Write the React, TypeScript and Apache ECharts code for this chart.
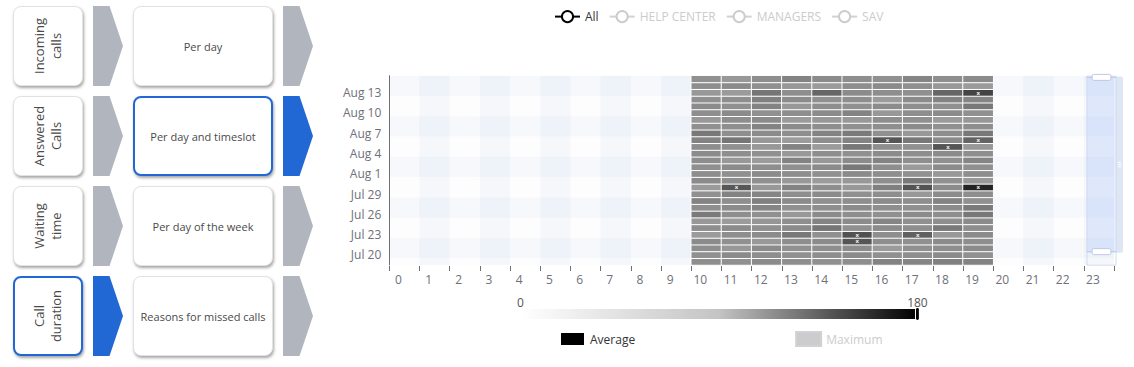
import React, { useEffect, useRef } from 'react';
import * as echarts from 'echarts';

const FONT = "'Open Sans', sans-serif";

// x-axis: hour of day
const hours = ['0', '1', '2', '3', '4', '5', '6', '7', '8', '9', '10', '11', '12', '13', '14', '15', '16', '17', '18', '19', '20', '21', '22', '23'];

// y-axis: days (the first two are outside the zoom window)
const dates = [
  'Jul 17', 'Jul 18', 'Jul 19', 'Jul 20', 'Jul 21', 'Jul 22', 'Jul 23', 'Jul 24', 'Jul 25', 'Jul 26',
  'Jul 27', 'Jul 28', 'Jul 29', 'Jul 30', 'Jul 31', 'Aug 1', 'Aug 2', 'Aug 3', 'Aug 4', 'Aug 5',
  'Aug 6', 'Aug 7', 'Aug 8', 'Aug 9', 'Aug 10', 'Aug 11', 'Aug 12', 'Aug 13', 'Aug 14', 'Aug 15',
];

// days and hours that have data
const dataDates = [
  'Jul 19', 'Jul 20', 'Jul 21', 'Jul 22', 'Jul 23', 'Jul 24', 'Jul 25', 'Jul 26', 'Jul 27', 'Jul 28',
  'Jul 29', 'Jul 30', 'Jul 31', 'Aug 1', 'Aug 2', 'Aug 3', 'Aug 4', 'Aug 5', 'Aug 6', 'Aug 7',
  'Aug 8', 'Aug 9', 'Aug 10', 'Aug 11', 'Aug 12', 'Aug 13', 'Aug 14', 'Aug 15',
];
const dataHours = ['10', '11', '12', '13', '14', '15', '16', '17', '18', '19'];

// average call duration (s), one row per day in dataDates order, columns = dataHours
const averageValues = [
  [115, 114, 116, 115, 114, 115, 120, 119, 121, 120], // Jul 19
  [114, 116, 115, 114, 115, 116, 114, 115, 116, 114], // Jul 20
  [115, 110, 116, 114, 115, 116, 109, 114, 115, 116], // Jul 21
  [116, 114, 110, 115, 116, 141, 115, 114, 116, 115], // Jul 22
  [109, 115, 116, 125, 114, 143, 115, 136, 110, 116], // Jul 23
  [115, 116, 114, 116, 126, 114, 116, 115, 124, 115], // Jul 24
  [110, 109, 111, 115, 120, 116, 119, 114, 115, 116], // Jul 25
  [124, 115, 114, 110, 116, 115, 114, 116, 115, 125], // Jul 26
  [115, 116, 119, 114, 115, 116, 115, 114, 116, 124], // Jul 27
  [120, 115, 121, 116, 114, 115, 116, 115, 120, 114], // Jul 28
  [114, 120, 119, 115, 116, 114, 115, 110, 116, 115], // Jul 29
  [109, 140, 110, 120, 115, 110, 121, 142, 116, 164], // Jul 30
  [116, 115, 114, 110, 109, 110, 115, 125, 114, 110], // Jul 31
  [115, 114, 116, 115, 114, 116, 115, 114, 110, 115], // Aug 1
  [114, 116, 115, 114, 116, 125, 115, 109, 116, 114], // Aug 2
  [115, 110, 109, 120, 110, 116, 120, 115, 114, 119], // Aug 3
  [116, 115, 114, 110, 115, 114, 116, 115, 116, 115], // Aug 4
  [115, 114, 110, 120, 109, 125, 115, 114, 141, 110], // Aug 5
  [120, 126, 110, 109, 115, 120, 141, 125, 116, 134], // Aug 6
  [125, 115, 116, 115, 120, 124, 114, 110, 115, 125], // Aug 7
  [114, 115, 120, 116, 115, 114, 115, 116, 114, 115], // Aug 8
  [110, 115, 116, 109, 110, 110, 115, 114, 109, 110], // Aug 9
  [115, 116, 114, 115, 116, 120, 110, 115, 116, 114], // Aug 10
  [116, 114, 120, 110, 115, 114, 116, 115, 114, 125], // Aug 11
  [114, 115, 121, 116, 114, 115, 109, 116, 120, 119], // Aug 12
  [110, 109, 126, 115, 133, 116, 115, 114, 133, 149], // Aug 13
  [115, 116, 114, 110, 109, 115, 116, 114, 110, 109], // Aug 14
  [114, 110, 115, 120, 116, 115, 114, 119, 115, 116], // Aug 15
];

// cells marked with an "x"
const flaggedCells: [string, string][] = [
  ['Aug 13', '19'], ['Aug 6', '16'], ['Aug 6', '19'], ['Aug 5', '18'],
  ['Jul 30', '11'], ['Jul 30', '17'], ['Jul 30', '19'],
  ['Jul 23', '15'], ['Jul 23', '17'], ['Jul 22', '15'],
];

const topLegend = ['All', 'HELP CENTER', 'MANAGERS', 'SAV'];
const bottomLegend = ['Average', 'Maximum'];

const visualMin = 0;
const visualMax = 180;
const palette = ['#ffffff', '#c4c4c4', '#000000'];

const steps = [
  { label: ['Incoming', 'calls'], view: 'Per day', labelActive: false, viewActive: false },
  { label: ['Answered', 'Calls'], view: 'Per day and timeslot', labelActive: false, viewActive: true },
  { label: ['Waiting', 'time'], view: 'Per day of the week', labelActive: false, viewActive: false },
  { label: ['Call', 'duration'], view: 'Reasons for missed calls', labelActive: true, viewActive: false },
];

const BLUE = '#2268d4';
const GREY = '#b1b6be';

function Card(props: { left: number; top: number; width: number; active: boolean; children: React.ReactNode }) {
  return (
    <div
      style={{
        position: 'absolute',
        left: props.left,
        top: props.top,
        width: props.width,
        height: 80,
        boxSizing: 'border-box',
        background: '#fff',
        borderRadius: 8,
        border: props.active ? `2px solid ${BLUE}` : '1px solid #e2e2e2',
        boxShadow: '1px 2px 3px rgba(0,0,0,0.35)',
        display: 'flex',
        alignItems: 'center',
        justifyContent: 'center',
        color: '#4a4a4a',
      }}
    >
      {props.children}
    </div>
  );
}

function Chevron(props: { left: number; top: number; active: boolean }) {
  return (
    <div
      style={{
        position: 'absolute',
        left: props.left,
        top: props.top,
        width: 30,
        height: 80,
        background: props.active ? BLUE : GREY,
        clipPath: 'polygon(0 0, 55% 0, 100% 50%, 55% 100%, 0 100%)',
      }}
    />
  );
}

export default function App() {
  const ref = useRef<HTMLDivElement>(null);

  useEffect(() => {
    const chart = echarts.init(ref.current!, null, { renderer: 'svg' });

    const flagged = new Set(flaggedCells.map(([d, h]) => d + '|' + h));
    const heatData: any[] = [];
    dataDates.forEach((d, i) => {
      dataHours.forEach((h, j) => {
        const item: any = { value: [hours.indexOf(h), dates.indexOf(d), averageValues[i][j]] };
        if (flagged.has(d + '|' + h)) item.label = { show: true };
        heatData.push(item);
      });
    });

    const yInterval = (index: number) => index % 3 === 0;
    const axisColor = '#6E7079';
    const splitColors = ['rgba(250,250,250,0.2)', 'rgba(210,219,238,0.2)'];

    const option: any = {
      animation: false,
      textStyle: { fontFamily: FONT },
      legend: [
        {
          data: topLegend,
          selected: { All: true, 'HELP CENTER': false, MANAGERS: false, SAV: false },
          left: 229,
          top: 5,
          itemWidth: 25,
          itemHeight: 14,
          itemGap: 10,
          inactiveColor: '#ccc',
          textStyle: { color: '#333', fontSize: 12, fontFamily: FONT },
        },
        {
          data: bottomLegend.map((n) => ({ name: n, itemStyle: { color: '#000' } })),
          selected: { Average: true, Maximum: false },
          icon: 'rect',
          left: 234,
          top: 326,
          itemWidth: 25,
          itemHeight: 14,
          itemGap: 160,
          inactiveColor: '#ccc',
          textStyle: { color: '#333', fontSize: 12, fontFamily: FONT },
        },
      ],
      grid: { left: 69.3, top: 75.7, width: 724.7, height: 189.3 },
      xAxis: {
        type: 'category',
        data: hours,
        offset: 1,
        axisLine: { show: false },
        axisTick: { show: true, interval: 0, length: 5, lineStyle: { color: axisColor } },
        axisLabel: { interval: 0, color: axisColor, fontSize: 12, fontFamily: FONT, padding: [0, 12, 0, 0], margin: 7 },
        splitArea: { show: true, interval: 0, areaStyle: { color: splitColors } },
        splitLine: { show: false },
      },
      yAxis: {
        type: 'category',
        data: dates,
        axisLine: { show: true, lineStyle: { color: axisColor } },
        axisTick: { show: false, interval: yInterval },
        axisLabel: { interval: yInterval, color: axisColor, fontSize: 12, fontFamily: FONT, margin: 8 },
        splitArea: { show: true, interval: yInterval, areaStyle: { color: splitColors } },
        splitLine: { show: false },
      },
      dataZoom: [
        {
          type: 'slider',
          yAxisIndex: 0,
          orient: 'vertical',
          left: 766,
          top: 75.7,
          width: 30,
          height: 189.3,
          startValue: 2,
          endValue: 29,
          showDataShadow: false,
          showDetail: false,
          borderColor: '#d2dbee',
          fillerColor: 'rgba(135,175,274,0.2)',
          moveHandleSize: 7,
          moveHandleStyle: { color: '#D2DBEE', opacity: 0.7 },
        },
      ],
      visualMap: {
        type: 'continuous',
        min: visualMin,
        max: visualMax,
        calculable: true,
        orient: 'horizontal',
        seriesIndex: [0, 1],
        left: 182,
        top: 281,
        itemWidth: 10,
        itemHeight: 397,
        precision: 0,
        inRange: { color: palette },
        textStyle: { color: '#555', fontSize: 12, fontFamily: FONT },
      },
      series: [
        {
          name: 'Average',
          type: 'heatmap',
          data: heatData,
          itemStyle: { borderColor: '#fff', borderWidth: 1 },
          label: { show: false, formatter: 'x', color: '#eeeeee', fontSize: 6, fontWeight: 'bold', lineHeight: 6, fontFamily: FONT },
          emphasis: { disabled: true },
        },
        {
          name: 'Maximum',
          type: 'heatmap',
          data: [],
          itemStyle: { borderColor: '#fff', borderWidth: 1 },
        },
        ...topLegend.map((n, i) => ({
          name: n,
          type: 'line',
          data: [],
          symbol: 'emptyCircle',
          symbolSize: 8,
          color: i === 0 ? '#000' : '#999',
          lineStyle: { width: 2 },
        })),
      ],
    };

    chart.setOption(option);
    return () => chart.dispose();
  }, []);

  return (
    <div
      style={{
        position: 'fixed',
        left: 0,
        top: 0,
        width: 1134,
        height: 367,
        background: '#fff',
        overflow: 'hidden',
        fontFamily: FONT,
      }}
    >
      {steps.map((s, i) => {
        const top = 6 + i * 90;
        return (
          <React.Fragment key={i}>
            <Card left={13} top={top} width={70} active={s.labelActive}>
              <div
                style={{
                  transform: 'rotate(-90deg)',
                  whiteSpace: 'nowrap',
                  textAlign: 'center',
                  fontSize: 13,
                  lineHeight: '17px',
                }}
              >
                {s.label.map((l, k) => (
                  <div key={k}>{l}</div>
                ))}
              </div>
            </Card>
            <Chevron left={93} top={top} active={s.labelActive} />
            <Card left={133} top={top} width={140} active={s.viewActive}>
              <div style={{ fontSize: 11, whiteSpace: 'nowrap' }}>{s.view}</div>
            </Card>
            <Chevron left={283} top={top} active={s.viewActive} />
          </React.Fragment>
        );
      })}
      <div ref={ref} style={{ position: 'absolute', left: 320, top: 0, width: 814, height: 367 }} />
    </div>
  );
}
